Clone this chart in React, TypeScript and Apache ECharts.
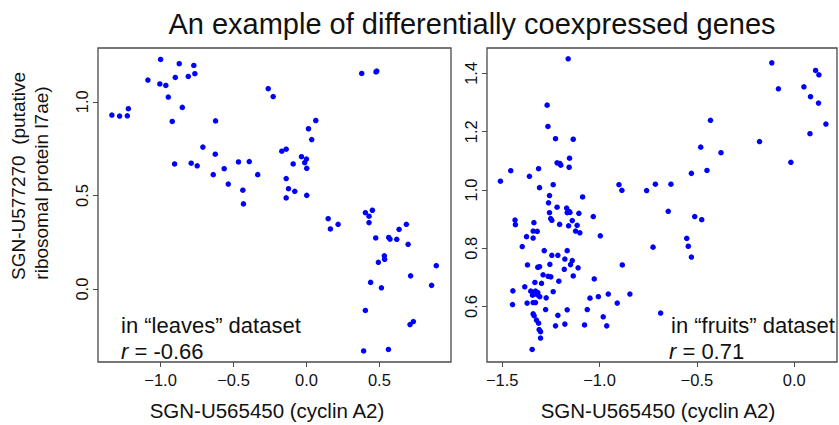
import React, { useEffect, useRef } from "react";
import * as echarts from "echarts";

const titleText = "An example of differentially coexpressed genes";
const xAxisTitle = "SGN-U565450 (cyclin A2)";
const yTitleLine1 = "SGN-U577270  (putative";
const yTitleLine2 = "ribosomal protein l7ae)";

const leavesX = [
  -1.334, -1.281, -1.228, -1.221, -1.087, -1.0, -1.005, -0.964, -0.947, -0.92,
  -0.899, -0.872, -0.851, -0.81, -0.772, -0.765, -0.623, -0.262, -0.228, -0.71,
  -0.625, -0.904, -0.79, -0.749, -0.639, -0.564, -0.536, -0.466, -0.392, -0.334,
  -0.436, -0.432, 0.379, 0.477, 0.482, 0.064, 0.014, 0.036, -0.169, -0.139,
  -0.034, 0.0, -0.012, -0.091, 0.002, -0.139, -0.123, -0.08, 0.002, -0.139,
  0.149, 0.164, 0.217, 0.404, 0.452, 0.429, 0.429, 0.475, 0.564, 0.573,
  0.619, 0.635, 0.685, 0.697, 0.534, 0.536, 0.493, 0.89, 0.714, 0.44,
  0.514, 0.858, 0.404, 0.733, 0.71, 0.392, 0.562,
];
const leavesY = [
  0.929, 0.924, 0.925, 0.963, 1.116, 1.226, 1.095, 1.087, 1.025, 0.895,
  1.13, 1.203, 0.97, 1.135, 1.194, 1.15, 0.898, 1.07, 1.028, 0.758,
  0.72, 0.668, 0.672, 0.658, 0.611, 0.643, 0.561, 0.679, 0.681, 0.611,
  0.528, 0.455, 1.151, 1.159, 1.164, 0.9, 0.856, 0.798, 0.736, 0.747,
  0.707, 0.694, 0.675, 0.668, 0.645, 0.59, 0.536, 0.522, 0.501, 0.487,
  0.376, 0.321, 0.346, 0.408, 0.421, 0.389, 0.355, 0.273, 0.276, 0.267,
  0.266, 0.319, 0.346, 0.239, 0.178, 0.159, 0.143, 0.125, 0.071, 0.036,
  0.007, 0.02, -0.114, -0.173, -0.189, -0.33, -0.322,
];

const fruitsX = [
  -1.161, -1.269, -1.265, -1.226, -1.135, -1.154, -1.218, -1.204, -1.199, -1.156,
  -1.313, -1.456, -1.36, -1.509, -1.308, -1.238, -0.9, -0.885, -0.758, -1.257, -1.087,
  -0.115, 0.11, 0.127, -0.081, 0.05, 0.084, 0.125, 0.163, 0.081, -0.43,
  -0.48, -0.376, -0.178, -0.017, -0.528, -0.448, -0.713, -0.633,
  -0.647, -0.511, -0.475, -0.552, -0.544, -0.528, -0.725, -0.686,
  -1.262, -1.218, -1.169, -1.157, -1.166, -1.152, -1.106, -1.257, -1.032, -1.434,
  -1.432, -1.251, -1.245, -1.205, -1.159, -1.14, -1.115, -1.123, -1.101, -1.337,
  -1.32, -1.341, -1.375, -1.341, -0.996, -1.397, -1.284, -1.214, -1.245, -1.166,
  -1.178, -1.14, -1.149, -1.255, -1.37, -1.308, -1.317, -1.11, -1.181, -0.883,
  -1.29, -1.264, -1.25, -1.384, -1.332, -1.298, -1.209, -1.135, -1.027, -1.445,
  -1.353, -1.329, -1.317, -1.344, -1.318, -1.307, -1.274, -1.238, -1.372, -1.341,
  -1.329, -1.447, -1.049, -1.006, -0.955, -0.909, -0.844, -1.277, -1.166, -1.063,
  -1.341, -1.336, -1.324, -1.313, -1.214, -0.981, -1.226, -1.178, -1.077, -0.963,
  -1.31, -1.303, -1.303, -1.346,
];
const fruitsY = [
  1.45, 1.291, 1.218, 1.176, 1.174, 1.109, 1.093, 1.091, 1.085, 1.078,
  1.073, 1.066, 1.047, 1.03, 1.008, 1.018, 1.018, 0.999, 0.998, 0.981, 0.976,
  1.436, 1.41, 1.395, 1.347, 1.354, 1.32, 1.298, 1.226, 1.193, 1.239,
  1.147, 1.128, 1.166, 1.095, 1.057, 1.067, 1.02, 1.02,
  0.927, 0.909, 0.898, 0.834, 0.807, 0.77, 0.804, 0.578,
  0.956, 0.941, 0.938, 0.927, 0.922, 0.923, 0.92, 0.922, 0.909, 0.897,
  0.881, 0.902, 0.896, 0.882, 0.877, 0.895, 0.879, 0.859, 0.853, 0.888,
  0.858, 0.859, 0.84, 0.835, 0.843, 0.806, 0.792, 0.776, 0.776, 0.792,
  0.763, 0.758, 0.744, 0.745, 0.743, 0.737, 0.735, 0.733, 0.728, 0.743,
  0.709, 0.704, 0.702, 0.668, 0.683, 0.68, 0.687, 0.705, 0.695, 0.654,
  0.653, 0.653, 0.648, 0.639, 0.64, 0.634, 0.63, 0.651, 0.612, 0.614,
  0.614, 0.607, 0.629, 0.634, 0.643, 0.612, 0.643, 0.59, 0.589, 0.59,
  0.575, 0.569, 0.554, 0.543, 0.57, 0.565, 0.534, 0.54, 0.537, 0.534,
  0.521, 0.514, 0.492, 0.453,
];

const leftXTicks = [-1.0, -0.5, 0.0, 0.5];
const leftYTicks = [0.0, 0.5, 1.0];
const rightXTicks = [-1.5, -1.0, -0.5, 0.0];
const rightYTicks = [0.6, 0.8, 1.0, 1.2, 1.4];

const FONT = "Liberation Sans";
const AXIS_COLOR = "#4a4a4a";
const TEXT_COLOR = "#111111";

function axis(min: number, max: number, ticks: number[], isY: boolean, gridIndex: number) {
  return {
    type: "value",
    gridIndex,
    min,
    max,
    position: isY ? "left" : "bottom",
    splitLine: { show: false },
    axisLine: { show: false, onZero: false },
    axisTick: {
      show: true,
      customValues: ticks,
      length: 5,
      lineStyle: { color: AXIS_COLOR, width: 1 },
    },
    axisLabel: {
      customValues: ticks,
      formatter: (v: number) => v.toFixed(1).replace("-", "\u2212"),
      fontFamily: FONT,
      fontSize: 16.5,
      color: TEXT_COLOR,
      margin: isY ? 8 : 9,
      rotate: isY ? 90 : 0,
      showMinLabel: true,
      showMaxLabel: true,
    },
  };
}

export default function App() {
  const ref = useRef<HTMLDivElement>(null);
  useEffect(() => {
    if (!ref.current) return;
    const chart = echarts.init(ref.current, undefined, { renderer: "svg" });
    const leaves = leavesX.map((x, i) => [x, leavesY[i]]);
    const fruits = fruitsX.map((x, i) => [x, fruitsY[i]]);
    const txt = (x: number, y: number, text: string, size: number, align: string, rot = 0) => ({
      type: "text",
      x,
      y,
      rotation: rot,
      style: {
        text,
        font: `${size}px "${FONT}"`,
        fill: TEXT_COLOR,
        textAlign: align,
        textVerticalAlign: "middle",
        rich: { i: { fontStyle: "italic", fontFamily: FONT, fontSize: size, fill: TEXT_COLOR } },
      },
    });
    chart.setOption({
      animation: false,
      backgroundColor: "#ffffff",
      title: {
        text: titleText,
        left: 467,
        top: 4,
        textAlign: "center",
        textStyle: { fontFamily: FONT, fontSize: 29, fontWeight: "normal", color: TEXT_COLOR },
      },
      grid: [
        { left: 98, top: 48, width: 353, height: 314, show: true, borderColor: AXIS_COLOR, borderWidth: 1.3, backgroundColor: "transparent" },
        { left: 487, top: 48, width: 350, height: 314, show: true, borderColor: AXIS_COLOR, borderWidth: 1.3, backgroundColor: "transparent" },
      ],
      xAxis: [
        axis(-1.429, 0.991, leftXTicks, false, 0),
        axis(-1.578, 0.22, rightXTicks, false, 1),
      ],
      yAxis: [
        axis(-0.389, 1.287, leftYTicks, true, 0),
        axis(0.41, 1.487, rightYTicks, true, 1),
      ],
      series: [
        {
          type: "scatter",
          xAxisIndex: 0,
          yAxisIndex: 0,
          data: leaves,
          symbol: "circle",
          symbolSize: 5.5,
          itemStyle: { color: "#0000ff", opacity: 1 },
        },
        {
          type: "scatter",
          xAxisIndex: 1,
          yAxisIndex: 1,
          data: fruits,
          symbol: "circle",
          symbolSize: 5.5,
          itemStyle: { color: "#0000ff", opacity: 1 },
        },
      ],
      graphic: [
        txt(18, 176, yTitleLine1, 19, "center", Math.PI / 2),
        txt(41, 183, yTitleLine2, 19, "center", Math.PI / 2),
        txt(267, 410, xAxisTitle, 20.5, "center"),
        txt(658, 410, xAxisTitle, 20.5, "center"),
        txt(121, 325, "in \u201cleaves\u201d dataset", 22, "left"),
        txt(121, 351, "{i|r} = -0.66", 22, "left"),
        txt(671, 325, "in \u201cfruits\u201d dataset", 22, "left"),
        txt(669, 351, "{i|r} = 0.71", 22, "left"),
      ],
    });
    return () => chart.dispose();
  }, []);
  return (
    <div
      ref={ref}
      style={{ position: "fixed", left: 0, top: 0, width: 839, height: 425, background: "#fff" }}
    />
  );
}
